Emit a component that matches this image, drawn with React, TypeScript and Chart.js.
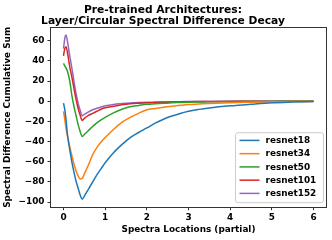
import React, { useEffect, useRef } from "react";
import { Chart, registerables } from "chart.js";

Chart.register(...registerables);

const titleLines = ["Pre-trained Architectures:", "Layer/Circular Spectral Difference Decay"];
const xLabel = "Spectra Locations (partial)";
const yLabel = "Spectral Difference Cumulative Sum";

const xs = [0, 0.03, 0.06, 0.1, 0.15, 0.2, 0.25, 0.3, 0.35, 0.4, 0.45, 0.5, 0.6, 0.7, 0.8, 0.9, 1.0, 1.2, 1.4, 1.6, 1.8, 2.0, 2.2, 2.4, 2.6, 2.8, 3.0, 3.25, 3.5, 4.0, 4.5, 5.0, 5.5, 6.0];

const seriesNames = ["resnet18", "resnet34", "resnet50", "resnet101", "resnet152"];
const seriesColors = ["#1f77b4", "#ff7f0e", "#2ca02c", "#d62728", "#9467bd"];

const resnet18 = [-2, -8, -18, -35, -48, -60, -70, -79, -86, -93, -97, -94, -87, -80, -73, -67, -61, -51, -43, -36, -31, -26.5, -21.8, -17.9, -14.7, -12.1, -9.9, -8.1, -6.7, -4.6, -3, -1.6, -0.9, -0.4];
const resnet34 = [-10, -18, -27, -35, -45, -54, -62, -69, -74, -77, -76.5, -72, -63, -53, -46, -40.5, -36, -28, -21, -16, -12, -8.5, -7.2, -6, -5, -4.1, -3.3, -2.8, -2.3, -1.5, -1, -0.6, -0.4, -0.2];
const resnet50 = [37.5, 35, 33, 29, 20, 6, -5, -14, -23, -30, -35, -33, -29, -25, -21.5, -18.5, -16, -11.5, -8, -5.5, -4.2, -3.1, -2.6, -2.1, -1.6, -1.3, -1, -0.8, -0.6, -0.4, -0.3, -0.2, -0.1, -0.1];
const resnet101 = [45, 52, 54, 47, 34, 24, 13, 2, -7, -14, -19, -17, -14, -12, -10, -8, -6.5, -5, -3.6, -2.6, -2, -1.5, -1.2, -1, -0.8, -0.6, -0.5, -0.4, -0.3, -0.2, -0.1, -0.1, 0, 0];
const resnet152 = [52, 62, 65.5, 58, 45, 33, 20, 8, -2, -9, -14.5, -13, -10.5, -8.5, -7, -5.7, -4.6, -3.2, -2.4, -1.8, -1.4, -1.1, -0.9, -0.7, -0.55, -0.45, -0.4, -0.3, -0.2, -0.1, -0.1, 0, 0, 0];

const seriesValues = [resnet18, resnet34, resnet50, resnet101, resnet152];

const xTicks = [0, 1, 2, 3, 4, 5, 6];
const yTicks = [-100, -80, -60, -40, -20, 0, 20, 40, 60];

const FONT = "'DejaVu Sans', sans-serif";

const fmt = (v: number) => (v < 0 ? "\u2212" + Math.abs(v) : String(v));

const framePlugin = {
  id: "frameAndLegend",
  afterDraw(chart: any) {
    const ctx = chart.ctx as CanvasRenderingContext2D;
    const ca = chart.chartArea;
    ctx.save();
    ctx.strokeStyle = "#333";
    ctx.lineWidth = 1;
    ctx.strokeRect(Math.round(ca.left) - 0.5, Math.round(ca.top) - 0.5, Math.round(ca.right - ca.left) + 1, Math.round(ca.bottom - ca.top) + 1);

    // legend
    const w = 88;
    const h = 70;
    const right = ca.right - 2.5;
    const bottom = ca.bottom - 4;
    const left = right - w;
    const top = bottom - h;
    const r = 2.5;
    ctx.beginPath();
    ctx.moveTo(left + r, top);
    ctx.lineTo(right - r, top);
    ctx.quadraticCurveTo(right, top, right, top + r);
    ctx.lineTo(right, bottom - r);
    ctx.quadraticCurveTo(right, bottom, right - r, bottom);
    ctx.lineTo(left + r, bottom);
    ctx.quadraticCurveTo(left, bottom, left, bottom - r);
    ctx.lineTo(left, top + r);
    ctx.quadraticCurveTo(left, top, left + r, top);
    ctx.closePath();
    ctx.fillStyle = "rgba(255,255,255,0.85)";
    ctx.fill();
    ctx.strokeStyle = "#cccccc";
    ctx.lineWidth = 1;
    ctx.stroke();

    ctx.font = `bold 8.9px ${FONT}`;
    ctx.textBaseline = "middle";
    ctx.textAlign = "left";
    chart.data.datasets.forEach((ds: any, i: number) => {
      const y = top + 7.7 + i * 13.25;
      ctx.strokeStyle = ds.borderColor;
      ctx.lineWidth = 1.5;
      ctx.beginPath();
      ctx.moveTo(left + 4, y);
      ctx.lineTo(left + 24, y);
      ctx.stroke();
      ctx.fillStyle = "#000";
      ctx.fillText(ds.label, left + 30, y + 0.5);
    });
    ctx.restore();
  },
};

export default function App() {
  const ref = useRef<HTMLCanvasElement>(null);

  useEffect(() => {
    if (!ref.current) return;
    const chart = new Chart(ref.current, {
      type: "line",
      data: {
        datasets: seriesNames.map((name, i) => ({
          label: name,
          data: xs.map((x, j) => ({ x, y: seriesValues[i][j] })),
          borderColor: seriesColors[i],
          backgroundColor: seriesColors[i],
          borderWidth: 1.5,
          pointRadius: 0,
          fill: false,
          cubicInterpolationMode: "monotone" as const,
        })),
      },
      options: {
        animation: false,
        responsive: false,
        devicePixelRatio: 1,
        layout: { padding: { left: 0, right: 6, top: 0, bottom: 0 } },
        plugins: {
          legend: { display: false },
          tooltip: { enabled: false },
          title: {
            display: true,
            text: titleLines,
            color: "#000",
            font: { family: FONT, size: 10.7, weight: "bold", lineHeight: 1 },
            padding: { top: 5.25, bottom: 1.35 },
          },
        },
        scales: {
          x: {
            type: "linear",
            min: -0.3,
            max: 6.3,
            afterBuildTicks: (scale: any) => {
              scale.ticks = xTicks.map((v) => ({ value: v }));
            },
            afterFit: (scale: any) => {
              scale.height = 33.3;
            },
            border: { display: false },
            grid: { drawOnChartArea: false, drawTicks: true, tickLength: 3.5, tickColor: "#333", tickWidth: 1 },
            ticks: {
              color: "#000",
              padding: 2.5,
              maxRotation: 0,
              font: { family: FONT, size: 8.9, weight: "bold" },
              callback: (v: any) => fmt(Number(v)),
            },
            title: {
              display: true,
              text: xLabel,
              color: "#000",
              font: { family: FONT, size: 8.9, weight: "bold", lineHeight: 1 },
              padding: { top: 0, bottom: 6 },
            },
          },
          y: {
            type: "linear",
            min: -104.5,
            max: 72.5,
            afterBuildTicks: (scale: any) => {
              scale.ticks = yTicks.map((v) => ({ value: v }));
            },
            afterFit: (scale: any) => {
              scale.width = 51;
            },
            border: { display: false },
            grid: { drawOnChartArea: false, drawTicks: true, tickLength: 3.5, tickColor: "#333", tickWidth: 1 },
            ticks: {
              color: "#000",
              padding: 3,
              font: { family: FONT, size: 8.9, weight: "bold" },
              callback: (v: any) => fmt(Number(v)),
            },
            title: {
              display: true,
              text: yLabel,
              color: "#000",
              font: { family: FONT, size: 8.9, weight: "bold", lineHeight: 1 },
              padding: { top: 3, bottom: 0 },
            },
          },
        },
      },
      plugins: [framePlugin],
    });
    return () => chart.destroy();
  }, []);

  return (
    <div style={{ position: "fixed", left: 0, top: 0, width: 332, height: 240, background: "#fff" }}>
      <canvas ref={ref} width={332} height={240} style={{ width: 332, height: 240 }} />
    </div>
  );
}
